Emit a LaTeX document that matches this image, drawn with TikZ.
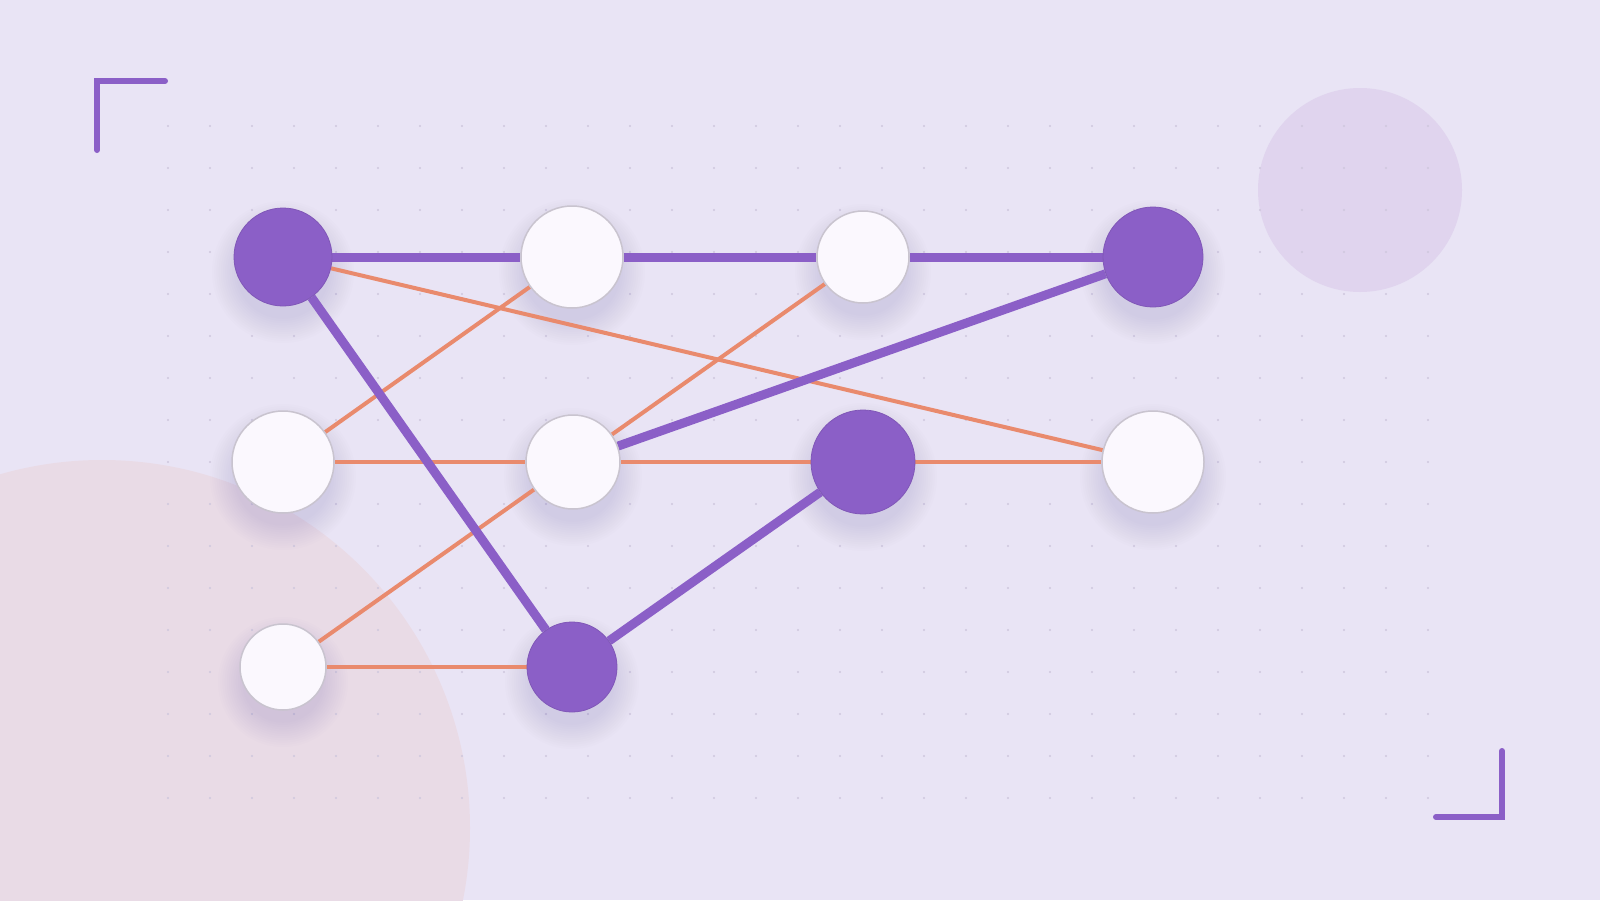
\documentclass[tikz,border=0pt]{standalone}
\usepackage{tikz}
\definecolor{bgcol}{HTML}{E9E4F5}
\definecolor{pinkblob}{HTML}{E9DBE6}
\definecolor{lilacblob}{HTML}{E0D4EE}
\definecolor{dotcol}{HTML}{CFC7DD}
\definecolor{shadecol}{HTML}{6A4E98}
\definecolor{nodepurple}{HTML}{8B5FC7}
\definecolor{nodewhite}{HTML}{FBF8FE}
\definecolor{nodeedge}{HTML}{C9C4CF}
\definecolor{linkorange}{HTML}{E98A6D}
\pgfdeclarelayer{back}
\pgfdeclarelayer{wires}
\pgfsetlayers{back,wires,main}

\begin{document}
\begin{tikzpicture}[x=1pt, y=-1pt,
    hot/.style={circle, inner sep=0pt, fill=nodepurple, draw=nodepurple!92!black, line width=0.8pt},
    cold/.style={circle, inner sep=0pt, fill=nodewhite, draw=nodeedge, line width=1.5pt},
    strong/.style={draw=nodepurple, line width=9pt},
    weak/.style={draw=linkorange, line width=4pt},
    shade/.style={fill=shadecol, opacity=0.013},
    corner/.style={draw=nodepurple, line width=6pt, line cap=round}]
    \useasboundingbox (0,0) rectangle (1600,900);

    % background, blobs and dot grid
    \begin{pgfonlayer}{back}
        \fill[bgcol] (0,0) rectangle (1600,900);
        \begin{scope}
            \clip (0,0) rectangle (1600,900);
            \fill[pinkblob] (102,828) circle (368);
        \end{scope}
        \fill[lilacblob] (1360,190) circle (102);
        \foreach \i in {0,...,30}
            \foreach \j in {0,...,16}
                \fill[dotcol] (168+42*\i, 126+42*\j) circle (1.1);
        \draw[corner] (97,150) -- (97,81) -- (165,81);
        \draw[corner] (1502,751) -- (1502,817) -- (1436,817);
    \end{pgfonlayer}

    % nodes
    \node[hot, minimum size=98pt] (a1) at (283,257) {};
    \node[cold, minimum size=102pt] (b1) at (572,257) {};
    \node[cold, minimum size=92pt] (c1) at (863,257) {};
    \node[hot, minimum size=100pt] (d1) at (1153,257) {};
    \node[cold, minimum size=102pt] (a2) at (283,462) {};
    \node[cold, minimum size=94pt] (b2) at (573,462) {};
    \node[hot, minimum size=104pt] (c2) at (863,462) {};
    \node[cold, minimum size=102pt] (d2) at (1153,462) {};
    \node[cold, minimum size=86pt] (a3) at (283,667) {};
    \node[hot, minimum size=90pt] (b3) at (572,667) {};

    % soft shadows under the nodes
    \begin{pgfonlayer}{back}
        \foreach \n/\r in {a1/49, b1/51, c1/46, d1/50, a2/51, b2/47, c2/52, d2/51, a3/43, b3/45}
            \foreach \k in {0,...,11}
                \fill[shade] ([yshift=-15pt]\n.center) circle (\r+22-2.2*\k);
    \end{pgfonlayer}

    % links
    \begin{pgfonlayer}{wires}
        \draw[weak] (a1) -- (d2);
        \draw[weak] (a2) -- (b1);
        \draw[weak] (b2) -- (c1);
        \draw[weak] (a2) -- (b2) -- (c2) -- (d2);
        \draw[weak] (a3) -- (b2);
        \draw[weak] (a3) -- (b3);
        \draw[strong] (a1) -- (b1) -- (c1) -- (d1);
        \draw[strong] (a1) -- (b3);
        \draw[strong] (b2) -- (d1);
        \draw[strong] (b3) -- (c2);
    \end{pgfonlayer}
\end{tikzpicture}
\end{document}
